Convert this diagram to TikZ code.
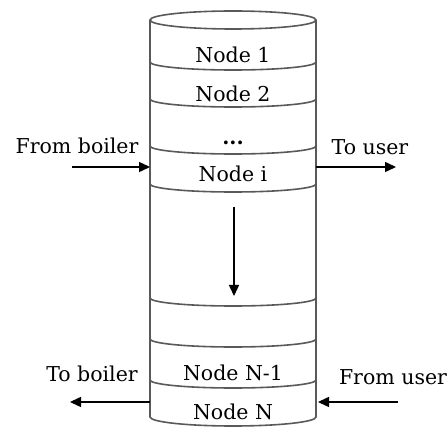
\documentclass[tikz,border=0pt]{standalone}
\usepackage{fontspec}
\setmainfont{DejaVu Serif}
\usetikzlibrary{arrows.meta}
\begin{document}
\begin{tikzpicture}[x=1pt,y=-1pt,
  wall/.style={draw=black!65,line width=1.6pt},
  flow/.style={draw=black,line width=1.5pt,-{Triangle[length=11pt,width=10pt]}},
  lbl/.style={font=\fontsize{20.5}{24}\selectfont,inner sep=0pt,anchor=base}]
\useasboundingbox (0,0) rectangle (448,430);
% cylinder body
\def\L{150}\def\R{316}\def\C{233}\def\rx{83}
\draw[wall] (\C,20) ellipse [x radius=\rx,y radius=9];
\draw[wall] (\L,20) -- (\L,417) arc [start angle=180,end angle=0,x radius=\rx,y radius=9] -- (\R,20);
% layer boundaries (front half of each ellipse)
\foreach \yy in {62,99,146,184,298,339,380}
  \draw[wall] (\L,\yy) arc [start angle=180,end angle=0,x radius=\rx,y radius=8];
% layer labels
\node[lbl] (n1) at (\C,63) {Node 1};
\node[lbl] (n2) at (\C,102) {Node 2};
\node[lbl] (dots) at (\C,145) {\textbf{...}};
\node[lbl] (ni) at (\C,182) {Node i};
\node[lbl] (nn1) at (\C,381) {Node N-1};
\node[lbl] (nn) at (\C,420) {Node N};
% side labels
\node[lbl] (fb) at (77,154) {From boiler};
\node[lbl] (tu) at (370,155) {To user};
\node[lbl] (tb) at (92,382) {To boiler};
\node[lbl] (fu) at (393,385) {From user};
% flow arrows
\coordinate (fbs) at (72,167); \coordinate (fbe) at (\L,167);
\coordinate (tus) at (\R,167); \coordinate (tue) at (396,167);
\coordinate (tbs) at (\L,402); \coordinate (tbe) at (70,402);
\coordinate (fus) at (398,402); \coordinate (fue) at (318,402);
\coordinate (ds) at (234,207); \coordinate (de) at (234,296);
\draw[flow] (fbs) -- (fbe);
\draw[flow] (tus) -- (tue);
\draw[flow] (tbs) -- (tbe);
\draw[flow] (fus) -- (fue);
\draw[flow] (ds) -- (de);
\end{tikzpicture}
\end{document}
